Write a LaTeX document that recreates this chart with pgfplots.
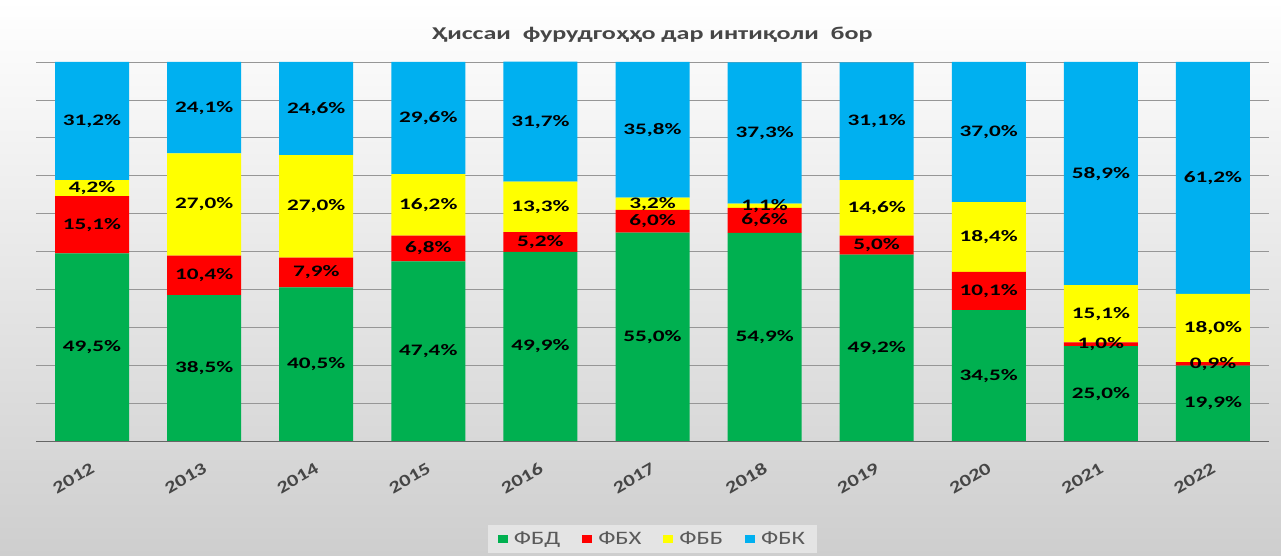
\documentclass[border=0pt]{standalone}
\usepackage{pgfplots}
\pgfplotsset{compat=1.18}
\usepackage{fontspec}
\setmainfont{Carlito}[FakeStretch=1.3]
\newfontfamily\titlefont{Carlito}[FakeStretch=1.45]
\newfontfamily\labfont{Carlito}[FakeStretch=1.45]
\definecolor{cg}{RGB}{0,176,80}
\definecolor{cr}{RGB}{255,0,0}
\definecolor{cy}{RGB}{255,255,0}
\definecolor{cb}{RGB}{0,176,240}
\definecolor{txt}{RGB}{70,70,70}
\definecolor{legtxt}{RGB}{90,90,90}
\definecolor{gridc}{RGB}{150,150,150}
\begin{document}
\begin{tikzpicture}[x=1pt,y=1pt]
\shade[top color=white, bottom color={rgb,255:red,206;green,206;blue,206}] (0,0) rectangle (1281,556);
\node[font=\fontsize{18}{20}\titlefont\bfseries, text=txt] at (652,521) {Ҳиссаи\ \ фурудгоҳҳо дар интиқоли\ \ бор};
\begin{axis}[
  at={(36pt,115pt)}, anchor=south west,
  width=1233pt, height=379.4pt, scale only axis,
  ybar stacked, bar width=74pt,
  xmin=-0.5, xmax=10.5, ymin=0, ymax=100.1,
  xtick={0,...,10},
  xticklabels={2012,2013,2014,2015,2016,2017,2018,2019,2020,2021,2022},
  xticklabel style={rotate=30, anchor=north east, font=\fontsize{17}{17}\selectfont\bfseries, text=txt, inner sep=0pt, xshift=-12pt, yshift=-17pt},
  ytick={0,10,...,100}, yticklabels={},
  ymajorgrids, grid style={gridc, line width=0.6pt},
  separate axis lines,
  axis x line*=bottom, axis y line*=left,
  x axis line style={draw=gray!80!black, line width=0.8pt, -},
  y axis line style={draw=none},
  tick style={draw=none},
  nodes near coords={\pgfmathprintnumber[fixed,fixed zerofill,precision=1,use comma,assume math mode=true]{\pgfplotspointmeta}\%},
  every node near coord/.append style={font=\fontsize{16}{16}\labfont\bfseries, text=black, anchor=center},
  legend columns=4,
  legend style={at={(0.5,-0.2586)}, anchor=center, draw=none, fill={rgb,255:red,228;green,228;blue,228},
    font=\fontsize{19}{19}\selectfont, text=legtxt, inner xsep=10pt, inner ysep=5pt,
    /tikz/every odd column/.append style={column sep=4pt},
    /tikz/every even column/.append style={column sep=20pt}},
  legend image code/.code={\fill[#1] (0pt,-4pt) rectangle (10pt,4pt);},
]
\addplot[fill=cg, draw=none] coordinates {(0,49.5) (1,38.5) (2,40.5) (3,47.4) (4,49.9) (5,55.0) (6,54.9) (7,49.2) (8,34.5) (9,25.0) (10,19.9)};
\addplot[fill=cr, draw=none] coordinates {(0,15.1) (1,10.4) (2,7.9) (3,6.8) (4,5.2) (5,6.0) (6,6.6) (7,5.0) (8,10.1) (9,1.0) (10,0.9)};
\addplot[fill=cy, draw=none] coordinates {(0,4.2) (1,27.0) (2,27.0) (3,16.2) (4,13.3) (5,3.2) (6,1.1) (7,14.6) (8,18.4) (9,15.1) (10,18.0)};
\addplot[fill=cb, draw=none] coordinates {(0,31.2) (1,24.1) (2,24.6) (3,29.6) (4,31.7) (5,35.8) (6,37.3) (7,31.1) (8,37.0) (9,58.9) (10,61.2)};
\legend{ФБД,ФБХ,ФББ,ФБК}
\end{axis}
\end{tikzpicture}
\end{document}
